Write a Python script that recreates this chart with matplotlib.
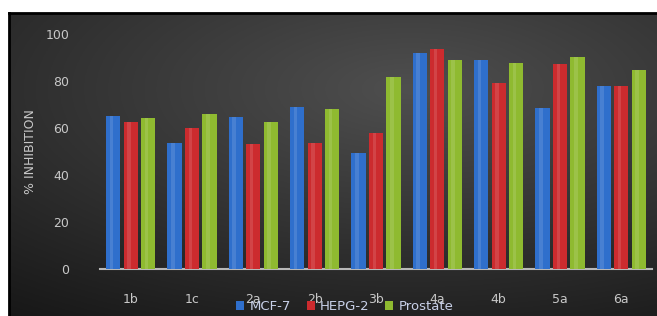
import numpy as np
import matplotlib
matplotlib.use("Agg")
import matplotlib.pyplot as plt

categories = ["1b", "1c", "2a", "2b", "3b", "4a", "4b", "5a", "6a"]
mcf7 = [65.2, 53.7, 64.8, 69.0, 49.5, 91.8, 88.9, 68.4, 77.9]
hepg2 = [62.7, 59.9, 53.2, 53.7, 57.7, 93.5, 79.3, 87.2, 78.0]
prostate = [64.1, 65.8, 62.7, 68.0, 81.8, 88.9, 87.5, 90.1, 84.7]
series_names = ["MCF-7", "HEPG-2", "Prostate"]
yticks = [0, 20, 40, 60, 80, 100]

colors = ["#2f6fcc", "#cc2b2e", "#8fba30"]

W, H = 657, 316
fig = plt.figure(figsize=(W / 100, H / 100), dpi=100, facecolor="white")

# dark gradient background panel
bg = fig.add_axes([9 / W, 0, 1 - 9 / W, 1 - 13 / H])
bg.set_axis_off()
yy, xx = np.mgrid[0:1:200j, 0:1:400j]
d = np.sqrt(((xx - 0.62) / 1.0) ** 2 + ((yy - 0.25) / 0.9) ** 2)
shade = np.clip(0.31 - 0.21 * d, 0.09, 0.31)
img = np.dstack([shade, shade, shade])
bg.imshow(img, aspect="auto", extent=[0, 1, 0, 1], origin="upper")
bg.set_xlim(0, 1)
bg.set_ylim(0, 1)
bg.plot([0, 1], [1, 1], color="black", lw=2, clip_on=False)
bg.plot([0, 0], [0, 1], color="black", lw=2, clip_on=False)

ax = fig.add_axes([100 / W, 47 / H, 552 / W, 235 / H])
ax.set_facecolor("none")
x = np.arange(len(categories))
off = 0.285
wd = 0.23
for i, (vals, c, name) in enumerate(zip([mcf7, hepg2, prostate], colors, series_names)):
    ax.bar(x + (i - 1) * off, vals, width=wd, color=c, label=name, zorder=3)
    ax.bar(x + (i - 1) * off - wd * 0.12, vals, width=wd * 0.25, color="white", alpha=0.12, zorder=4)

ax.set_xlim(-0.5, len(categories) - 0.5)
ax.set_ylim(0, 100)
ax.set_yticks(yticks)
ax.set_xticks(x)
ax.set_xticklabels(categories)
for s in ["top", "right", "left"]:
    ax.spines[s].set_visible(False)
ax.spines["bottom"].set_color("#b8b8b8")
ax.spines["bottom"].set_linewidth(1.5)
ax.tick_params(axis="both", length=0, colors="#c8c8c8", labelsize=9)
ax.tick_params(axis="y", pad=22)
ax.tick_params(axis="x", pad=17)
ax.set_ylabel("% INHIBITION", color="#c8c8c8", fontsize=9, labelpad=6)

leg = fig.legend(loc="center", bbox_to_anchor=(0.525, 0.03), ncol=3, frameon=False,
                 fontsize=9.5, handlelength=0.6, handleheight=0.6, columnspacing=1.2,
                 handletextpad=0.4, labelcolor="#c8d0e8")
fig.savefig("out.png", dpi=100, facecolor="white")
